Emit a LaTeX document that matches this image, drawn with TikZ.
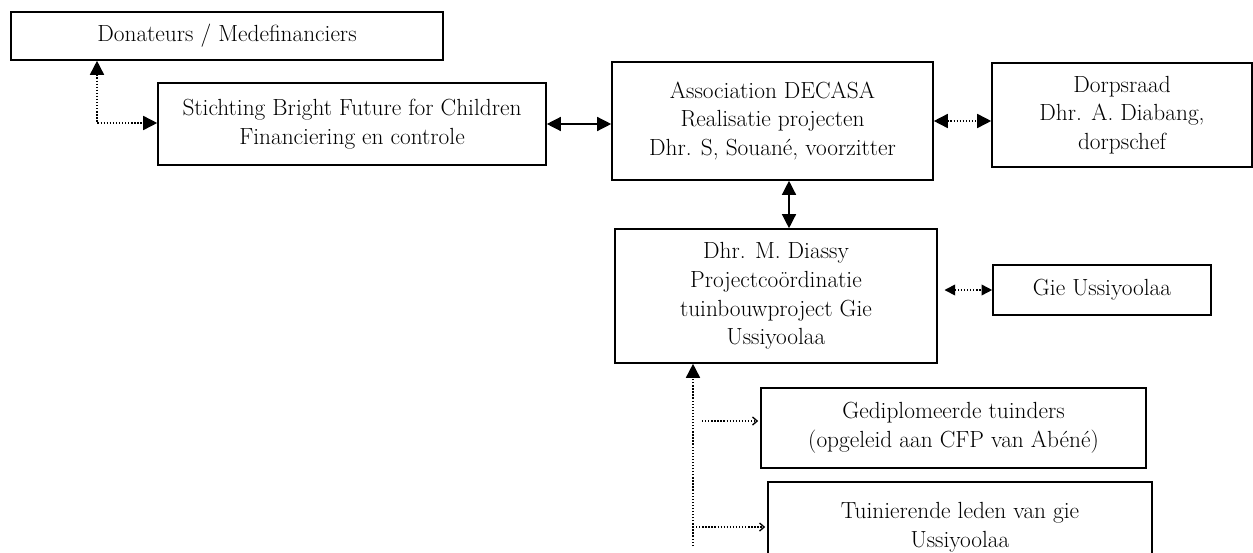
\documentclass[tikz,border=0pt]{standalone}
\usetikzlibrary{arrows.meta}
\tikzset{
  box/.style={draw,line width=1.2pt,align=center,inner sep=0pt,fill=white,
    font=\fontsize{17.5}{21.5}\selectfont},
  bigtips/.style={{Triangle[length=10.5pt,width=10.5pt]}-{Triangle[length=10.5pt,width=10.5pt]}},
  midtips/.style={{Triangle[length=8pt,width=8pt]}-{Triangle[length=8pt,width=8pt]}},
  solidline/.style={line width=1pt},
  dotline/.style={line width=1.2pt,dash pattern=on 1pt off 1.3pt},
  smalltip/.style={-{Straight Barb[length=3.5pt,width=6pt,line width=1pt]}}
}
\begin{document}
\begin{tikzpicture}[x=0.75pt,y=-0.75pt]
\useasboundingbox (0,0) rectangle (1253,553);
\fill[white] (0,0) rectangle (1253,553);
\node[box,minimum width=324pt,minimum height=36pt] (don) at (227,36) {Donateurs / Medefinanciers};
\node[box,minimum width=291pt,minimum height=61.5pt] (sti) at (352,124) {Stichting Bright Future for Children\\Financiering en controle};
\node[box,minimum width=240.75pt,minimum height=88.5pt] (asc) at (772.5,121) {Association DECASA\\Realisatie projecten\\Dhr. S, Souané, voorzitter};
\node[box,minimum width=195pt,minimum height=78pt] (dor) at (1122,115) {Dorpsraad\\Dhr. A. Diabang,\\dorpschef};
\node[box,minimum width=241.5pt,minimum height=100.5pt] (dia) at (776,296) {Dhr. M. Diassy\\Projectcoördinatie\\tuinbouwproject Gie\\Ussiyoolaa};
\node[box,minimum width=163.5pt,minimum height=37.5pt] (gie) at (1102,290) {Gie Ussiyoolaa};
\node[box,minimum width=288.75pt,minimum height=60pt] (ged) at (953.5,428) {Gediplomeerde tuinders\\(opgeleid aan CFP van Abéné)};
\node[box,minimum width=288pt,minimum height=86pt,anchor=north] (tui) at (960,481) {Tuinierende leden van gie\\Ussiyoolaa\\\mbox{}};

\coordinate (c1) at (97,123);
\draw[dotline,bigtips] (don.south -| c1) -- (c1) -- (c1 -| sti.west);
\draw[solidline,bigtips] (sti.east) -- (sti.east -| asc.west);
\draw[dotline,bigtips] (asc.east) -- (asc.east -| dor.west);
\coordinate (c2) at (789,0);
\draw[solidline,bigtips] (asc.south -| c2) -- (dia.north -| c2);
\draw[dotline,midtips,shorten <=5pt] (gie.west -| dia.east) -- (gie.west);
\coordinate (vb) at (693,546);
\draw[dotline,-{Triangle[length=10.5pt,width=10.5pt]}] (vb) -- (vb |- dia.south);
\coordinate (b1) at (702,421);
\draw[dotline,smalltip,shorten >=1.5pt] (b1) -- (b1 -| ged.west);
\coordinate (b2) at (693,527);
\draw[dotline,smalltip,shorten >=1.5pt] (b2) -- (b2 -| tui.west);
\end{tikzpicture}
\end{document}
